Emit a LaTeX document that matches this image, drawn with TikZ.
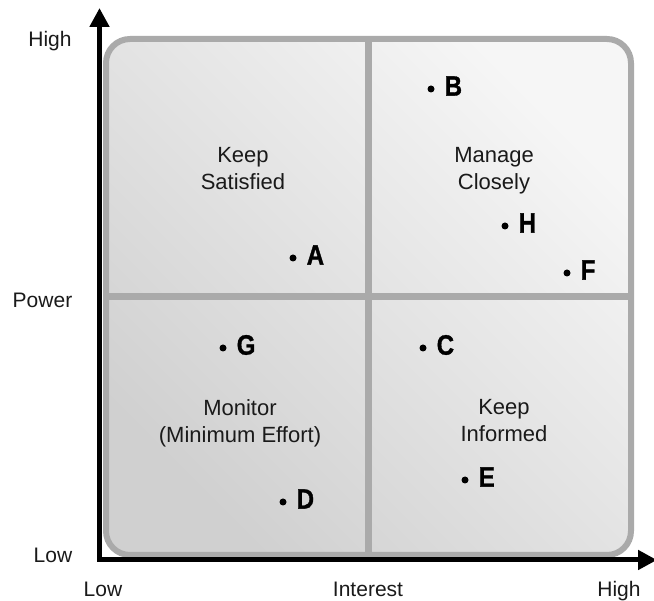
\documentclass[tikz,border=0pt]{standalone}
\usepackage{fontspec}
\setmainfont{Liberation Sans}
\newfontfamily\stakefont[FakeStretch=0.86,FakeBold=1.2]{Liberation Sans Bold}
\usetikzlibrary{arrows.meta}

\definecolor{frameGray}{HTML}{AAAAAA}
\definecolor{fillLight}{HTML}{F6F6F6}
\definecolor{fillDark}{HTML}{D0D0D0}
\definecolor{inkGray}{HTML}{1A1A1A}

\tikzset{
  quad/.style={align=center, text=inkGray, inner sep=0pt, font=\fontsize{22}{27}\selectfont},
  axislbl/.style={anchor=base, text=inkGray, inner sep=0pt, font=\fontsize{21}{24}\selectfont},
  dot/.style={circle, fill=black, inner sep=0pt, minimum size=7pt},
  stake/.style={anchor=west, inner sep=0pt, font=\stakefont\fontsize{28}{28}\selectfont}
}

\begin{document}
\begin{tikzpicture}[x=1pt, y=-1pt, >={Triangle[length=19pt,width=19pt]}]
    \useasboundingbox (0,0) rectangle (654,601);

    % grid
    \shade[top color=fillLight, bottom color=fillDark, shading angle=-45, rounded corners=24pt]
        (106,39) rectangle (631,555);
    \draw[frameGray, line width=7pt] (368.5,39) -- (368.5,555);
    \draw[frameGray, line width=7pt] (106,297) -- (631,297);
    \draw[frameGray, line width=6pt, rounded corners=24pt] (106,39) rectangle (631,555);

    % axes
    \draw[<->, line width=5pt, line join=miter] (99.5,8) -- (99.5,560) -- (657,560);

    % quadrants
    \node[quad] (satisfied) at (243,169) {Keep\\Satisfied};
    \node[quad] (closely)   at (494,171) {Manage\\Closely};
    \node[quad] (monitor)   at (240,423) {Monitor\\(Minimum Effort)};
    \node[quad] (informed)  at (504,421) {Keep\\Informed};

    % axis labels
    \node[axislbl] (powHigh)  at (50,47)    {High};
    \node[axislbl] (power)    at (42.5,308) {Power};
    \node[axislbl] (powLow)   at (53,563)   {Low};
    \node[axislbl] (intLow)   at (103,596.5) {Low};
    \node[axislbl] (interest) at (368,596.5) {Interest};
    \node[axislbl] (intHigh)  at (619,596.5) {High};

    % stakeholders
    \foreach \who/\x/\y in {B/431/89, H/505/226, F/567/273, A/293/258,
                            G/223/348, C/423/348, E/465/480, D/283/502} {
        \node[dot] (dot\who) at (\x,\y) {};
        \node[stake] (lbl\who) at (\x+13.5,\y-3) {\who};
    }
\end{tikzpicture}
\end{document}
